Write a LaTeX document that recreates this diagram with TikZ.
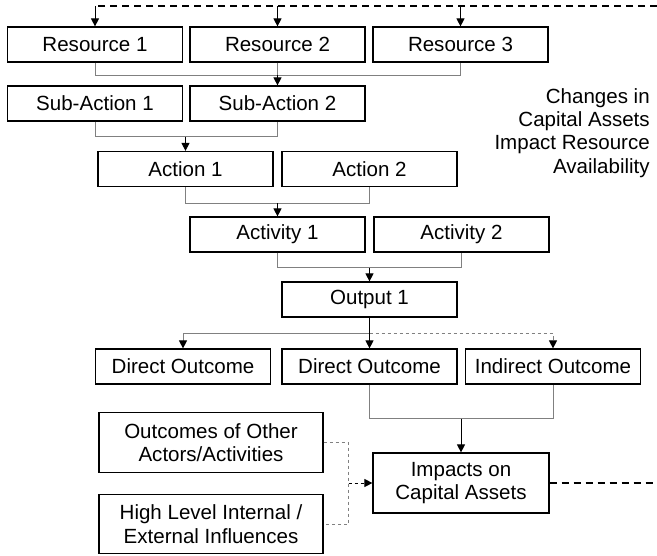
\documentclass[tikz,border=0pt]{standalone}
\usepackage{fontspec}
\setmainfont{Liberation Sans}
\usetikzlibrary{arrows.meta}
\definecolor{linkgray}{HTML}{808080}
\tikzset{
  box/.style={draw=black, line width=0.9pt, fill=white, inner sep=0pt,
    minimum width=131.25pt, minimum height=26.25pt, align=center,
    font=\fontsize{15.4pt}{17.5pt}\selectfont},
  bigbox/.style={box, minimum width=168pt, minimum height=44.5pt},
  impbox/.style={box, minimum width=132pt, minimum height=45pt},
  link/.style={draw=linkgray, line width=0.75pt},
  glink/.style={draw=linkgray, line width=0.75pt, dash pattern=on 2.6pt off 1.9pt},
  tip/.style={-{Triangle[length=6pt,width=6pt,color=black]}},
  arr/.style={draw=black, line width=0.75pt, tip},
  darr/.style={draw=black, line width=0.75pt, dash pattern=on 2.6pt off 1.9pt, tip},
  fb/.style={draw=black, line width=1.5pt, dash pattern=on 5.25pt off 3.75pt}
}
\begin{document}
\begin{tikzpicture}[x=0.75pt, y=-0.75pt]
\useasboundingbox (0,0) rectangle (657,556);

% boxes of the chain
\node[box] (r1)   at (95,44.5)    {Resource 1};
\node[box] (r2)   at (277.5,44.5) {Resource 2};
\node[box] (r3)   at (460.5,44.5) {Resource 3};
\node[box] (sa1)  at (95,103.5)   {Sub-Action 1};
\node[box] (sa2)  at (277.5,103.5){Sub-Action 2};
\node[box] (a1)   at (185.5,169)  {Action 1};
\node[box] (a2)   at (369.5,169)  {Action 2};
\node[box] (act1) at (277.5,234.5){Activity 1};
\node[box] (act2) at (461.5,234.5){Activity 2};
\node[box] (out)  at (369.5,299.5){Output 1};
\node[box] (do1)  at (183,366.5)  {Direct Outcome};
\node[box] (do2)  at (369.5,366.5){Direct Outcome};
\node[box] (ido)  at (553,366.5)  {Indirect Outcome};
\node[bigbox] (oth) at (211,442.5) {Outcomes of Other\\Actors/Activities};
\node[bigbox] (hl)  at (211,524)   {High Level Internal /\\External Influences};
\node[impbox] (imp) at (461,483)   {Impacts on\\Capital Assets};

% side note
\node[anchor=east, align=right, inner sep=0pt,
      font=\fontsize{15.4pt}{17.5pt}\selectfont] (note) at (650,133)
  {Changes in\\Capital Assets\\Impact Resource\\Availability};

% resources -> sub-actions
\draw[link] (r1.south) -- ++(0,12.5) coordinate (j1) -| (r3.south);
\draw[link] (r2.south) -- (r2.south |- j1);
\draw[arr] (r2.south |- j1) -- (sa2.north);

% sub-actions -> action 1
\draw[link] (sa1.south) -- ++(0,15) coordinate (j2) -| (sa2.south);
\draw[arr] (a1.north |- j2) -- (a1.north);

% actions -> activity 1
\draw[link] (a1.south) -- ++(0,16) coordinate (j3) -| (a2.south);
\draw[arr] (act1.north |- j3) -- (act1.north);

% activities -> output
\draw[link] (act1.south) -- ++(0,15) coordinate (j4) -| (act2.south);
\draw[arr] (out.north |- j4) -- (out.north);

% output -> outcomes
\path (out.south) -- ++(0,16) coordinate (j5);
\draw[link, tip] (j5) -| (do1.north);
\draw[glink, tip] (j5) -| (ido.north);
\draw[arr] (out.south) -- (do2.north);

% outcomes -> impacts
\draw[link] (do2.south) -- ++(0,34) coordinate (j6) -| (ido.south);
\draw[arr] (imp.north |- j6) -- (imp.north);

% other influences -> impacts
\draw[glink] (oth.east) -- ++(25,0) coordinate (j7) |- (hl.east);
\draw[darr] (j7 |- imp.west) -- (imp.west);

% feedback from impacts to resources
\coordinate (topR) at (657,6);
\coordinate (botR) at (657,483);
\draw[fb] (imp.east) -- (botR);
\draw[fb] (topR) -- (r1.north |- topR);
\draw[arr] (r1.north |- topR) -- (r1.north);
\draw[arr] (r2.north |- topR) -- (r2.north);
\draw[arr] (r3.north |- topR) -- (r3.north);
\end{tikzpicture}
\end{document}
